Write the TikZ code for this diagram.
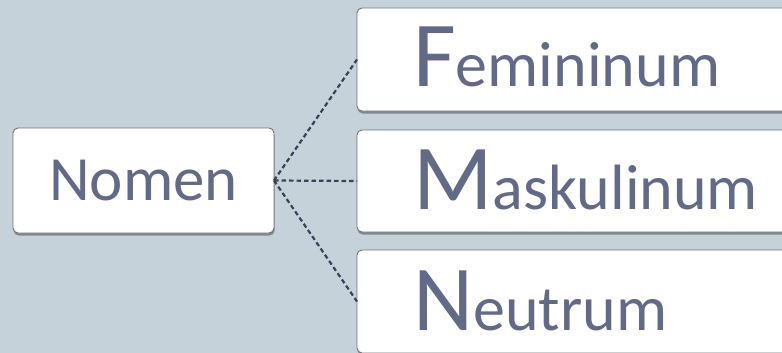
\documentclass[tikz,border=0pt]{standalone}
\usepackage{fontspec}
\setmainfont{Carlito}
\usetikzlibrary{shadows}
\definecolor{bg}{HTML}{C6D2D9}
\definecolor{txt}{HTML}{636A87}
\definecolor{ln}{HTML}{38425A}
\definecolor{bd}{HTML}{707478}
\begin{document}
\begin{tikzpicture}[x=1pt,y=-1pt,
  box/.style={draw=bd, line width=0.9pt, fill=white, rounded corners=5pt, outer sep=0pt,
    drop shadow={shadow xshift=0.6pt, shadow yshift=-2.5pt, opacity=0.35, fill=black}},
  lbl/.style={text=txt, inner sep=0pt, anchor=base west},
  conn/.style={draw=ln, line width=2.2pt, dash pattern=on 4.5pt off 3pt}]
\fill[bg] (0,0) rectangle (782,353);
\useasboundingbox (0,0) rectangle (782,353);
\begin{scope}
\clip (0,0) rectangle (782,353);
\node[box, text=txt, font=\fontsize{63}{63}\selectfont, minimum width=261pt, minimum height=105pt] (nomen) at (143.5,180.5) {Nomen};
\node[box, anchor=north west, minimum width=460pt, minimum height=103pt] (fem) at (357,8) {};
\node[box, anchor=north west, minimum width=460pt, minimum height=102pt] (mask) at (357,130) {};
\node[box, anchor=north west, minimum width=460pt, minimum height=103pt] (neut) at (357,250) {};
\node[lbl] (femtxt) at (413,87) {\fontsize{93}{93}\selectfont F\fontsize{64}{64}\selectfont emininum};
\node[lbl] (masktxt) at (413,209) {\fontsize{93}{93}\selectfont M\fontsize{64}{64}\selectfont askulinum};
\node[lbl] (neuttxt) at (413,330) {\fontsize{93}{93}\selectfont N\fontsize{64}{64}\selectfont eutrum};
\end{scope}
\draw[conn] (nomen.east) -- (fem.west);
\draw[conn] (nomen.east) -- (mask.west);
\draw[conn] (nomen.east) -- (neut.west);
\end{tikzpicture}
\end{document}
